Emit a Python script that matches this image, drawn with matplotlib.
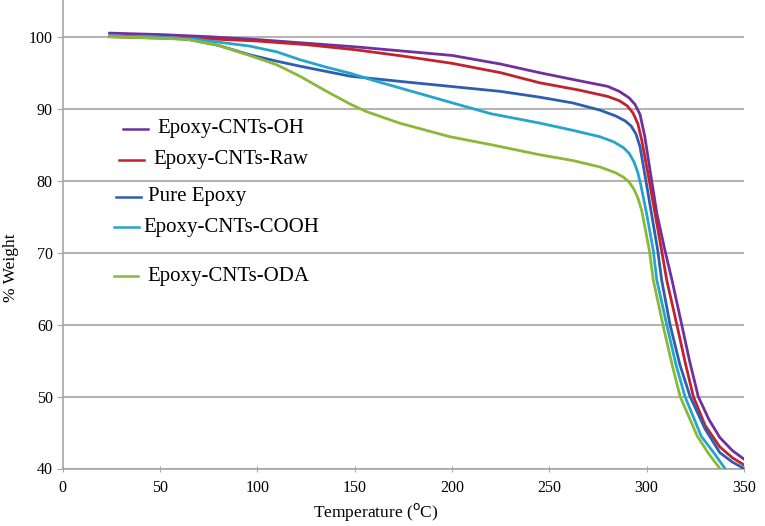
import matplotlib
matplotlib.use("Agg")
import matplotlib.pyplot as plt
from matplotlib.lines import Line2D

# TGA curves
temp_oh = [24, 50, 75, 100, 125, 150, 175, 200, 225, 245, 265, 280, 286, 291,
           294, 296.6, 299, 302, 305.2, 309.4, 313, 318, 322, 326.5, 332,
           337.6, 344, 350]
w_oh = [100.5, 100.3, 100.0, 99.6, 99.1, 98.6, 98.0, 97.4, 96.2, 95.0, 93.9,
        93.1, 92.4, 91.5, 90.6, 89.2, 86.2, 81.0, 75.5, 70.3, 66.2, 60.0, 55.0,
        50.0, 46.8, 44.3, 42.5, 41.3]

temp_raw = [24, 50, 75, 100, 125, 150, 175, 200, 225, 245, 265, 280, 286, 290,
            293, 295.5, 297.5, 301, 307.7, 310.3, 315.5, 320, 324, 330, 337.6,
            344, 350]
w_raw = [100.0, 99.8, 99.7, 99.4, 98.9, 98.2, 97.3, 96.3, 95.0, 93.6, 92.6,
         91.7, 91.1, 90.4, 89.4, 87.9, 85.6, 80.5, 70.3, 66.2, 60.0, 54.5, 50.0,
         46.0, 43.0, 41.5, 40.5]

temp_pure = [24, 50, 65, 80, 96, 110, 122, 148, 173, 199, 225, 245, 262, 276,
             284, 289, 292, 294.5, 296.6, 300, 305.7, 307.7, 312, 317, 322.3,
             330, 337.6, 344, 350]
w_pure = [100.1, 99.9, 99.6, 98.8, 97.5, 96.6, 95.9, 94.5, 93.8, 93.1, 92.4,
          91.6, 90.8, 89.8, 89.0, 88.3, 87.6, 86.5, 84.7, 79.4, 70.3, 66.2, 60.0,
          54.5, 50.0, 45.5, 42.2, 40.9, 40.0]

temp_cooh = [24, 50, 70, 96, 110, 122, 135, 148, 160, 173, 199, 220, 245, 262,
             276, 283, 288, 291, 293.5, 295.5, 297, 300, 303.4, 305.2, 310.3,
             315, 319.7, 328, 335, 340.2]
w_cooh = [100.1, 99.9, 99.6, 98.7, 97.9, 96.8, 95.8, 94.9, 93.9, 92.9, 90.9,
          89.3, 88.0, 87.0, 86.1, 85.4, 84.6, 83.8, 82.6, 81.1, 79.4, 75.4, 70.3,
          66.2, 60.0, 54.5, 50.0, 44.5, 42.0, 40.0]

temp_oda = [24, 50, 65, 80, 96, 110, 122, 135, 148, 156, 173, 199, 220, 245,
            262, 276, 284, 288, 291, 293.5, 295.5, 297.5, 301.4, 303.4, 308.5,
            313, 317.2, 326, 332, 337.6]
w_oda = [100.0, 99.8, 99.6, 98.8, 97.4, 96.1, 94.5, 92.5, 90.6, 89.6, 88.0,
         86.1, 85.0, 83.6, 82.8, 81.9, 81.1, 80.5, 79.8, 78.8, 77.6, 75.8, 70.3,
         66.2, 59.8, 54.5, 50.0, 44.5, 42.0, 40.0]

series = [
    ("Epoxy-CNTs-OH", temp_oh, w_oh, "#7030A0"),
    ("Epoxy-CNTs-Raw", temp_raw, w_raw, "#C0232B"),
    ("Pure Epoxy", temp_pure, w_pure, "#2E5EB0"),
    ("Epoxy-CNTs-COOH", temp_cooh, w_cooh, "#25A5CB"),
    ("Epoxy-CNTs-ODA", temp_oda, w_oda, "#8BB838"),
]

# hand-placed legend entries (pixel positions in the 765x526 figure)
legend_pos = [
    (123, 148, 157, 129),
    (119, 144, 153, 160),
    (116, 141, 148, 197),
    (114, 139, 143, 227),
    (114, 138, 147, 276),
]

plt.rcParams["font.family"] = ["Liberation Serif", "DejaVu Serif"]

W, H = 765, 526
fig = plt.figure(figsize=(W / 100, H / 100), dpi=100)
ax_left, ax_bottom = 62.5, H - 468.5
ax = fig.add_axes([ax_left / W, ax_bottom / H, (744 - 62.5) / W, 468.5 / H])

for label, t, w, color in series:
    ax.plot(t, w, color=color, linewidth=2.0, solid_capstyle="round",
            solid_joinstyle="round", zorder=3)

ax.set_xlim(0, 350)
ax.set_ylim(40, 105.1)
ax.set_xticks(range(0, 351, 50))
ax.set_yticks(range(40, 101, 10))
ax.yaxis.grid(True, color="#A6A6A6", linewidth=1.2)
ax.set_axisbelow(True)

for side in ["top", "right"]:
    ax.spines[side].set_visible(False)
for side in ["left", "bottom"]:
    ax.spines[side].set_color("#A6A6A6")
    ax.spines[side].set_linewidth(1.2)

ax.tick_params(axis="y", direction="out", length=4, color="#A6A6A6",
               labelsize=11.5, pad=3)
ax.tick_params(axis="x", direction="inout", length=5, color="#A6A6A6",
               labelsize=11.5, pad=6)

ax.set_xlabel("Temperature ($^{\\rm o}$C)", fontsize=12.5, va="center")
ax.xaxis.set_label_coords((376 - ax_left) / 681.5, (H - 512 - ax_bottom) / 468.5)
ax.set_ylabel("% Weight", fontsize=12.5, va="center")
ax.yaxis.set_label_coords((11 - ax_left) / 681.5, (H - 268 - ax_bottom) / 468.5)

for (label, t, w, color), (x0, x1, tx, y) in zip(series, legend_pos):
    fy = 1 - y / H
    fig.add_artist(Line2D([x0 / W, x1 / W], [fy, fy], color=color,
                          linewidth=1.8, transform=fig.transFigure))
    fig.text(tx / W, fy, label, fontsize=15, va="center", ha="left")

fig.savefig("out.png", dpi=100)
